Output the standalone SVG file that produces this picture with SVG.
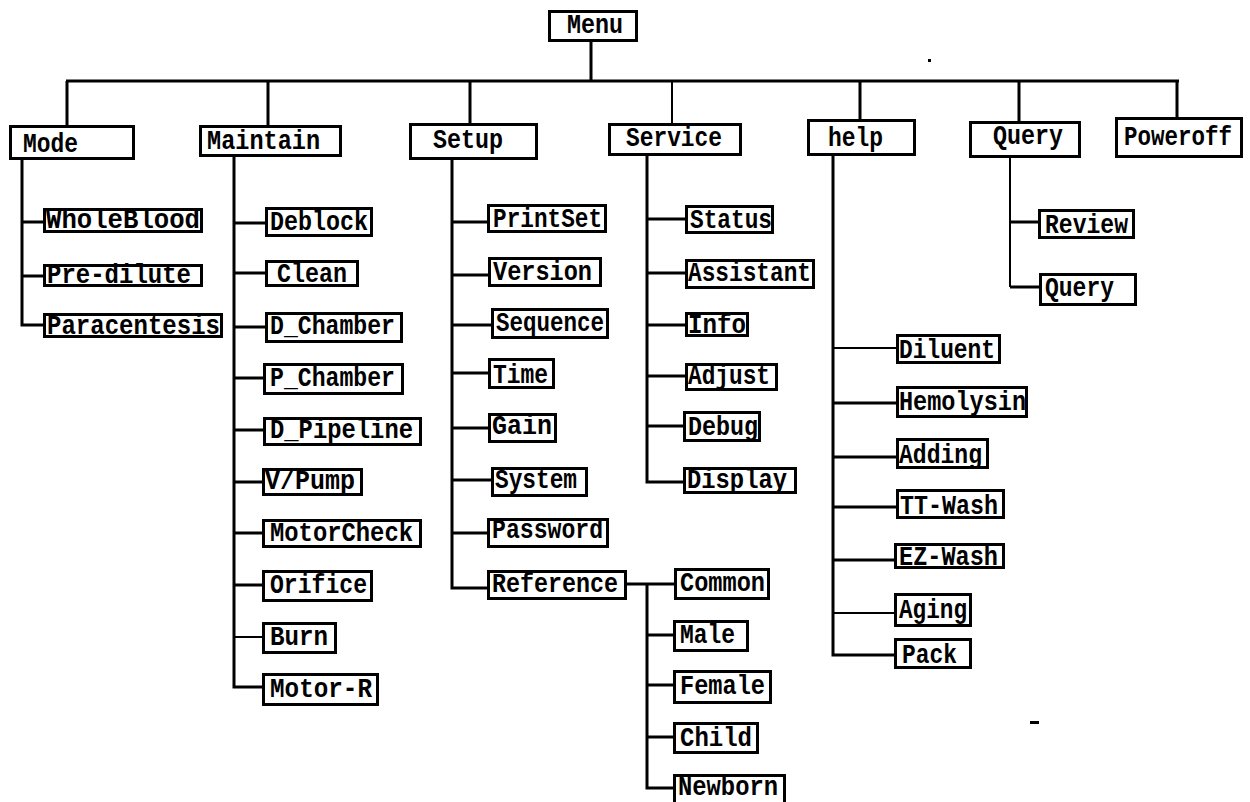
<svg xmlns="http://www.w3.org/2000/svg" width="1250" height="802" viewBox="0 0 1250 802">
<style>
.b{fill:#fff;stroke:#000;stroke-width:3}
.t{font-family:"Liberation Mono","DejaVu Sans Mono",monospace;font-weight:bold;font-size:28px;fill:#000}
.c{fill:none;stroke:#000;stroke-width:3}
.n{fill:none;stroke:#000;stroke-width:2}
</style>
<rect width="1250" height="802" fill="#fff"/>
<g id="connectors">
<path class="c" d="M591 42V81M66 81H1179M67 81V125M268 81V125M470 81V123M860 81V119M1019 81V121M1177 81V117"/>
<path class="n" d="M672 81V123"/>
<path class="c" d="M22 160V325H43M22 222H43M22 276H43"/>
<path class="c" d="M234 157V687H262M234 223H265M234 273H265M234 327H265M234 378H263M234 430H263M234 482H262M234 533H262M234 585H262"/>
<path class="n" d="M234 637H262"/>
<path class="c" d="M452 160V588H487M452 222H487M452 275H488M452 325H491M452 373H488M452 428H488M452 480H491M452 533H487"/>
<path class="c" d="M627 584H674M647 584V788H673M647 635H673M647 685H673M647 737H673"/>
<path class="c" d="M647 156V482H683M647 219H685M647 273H685M647 325H685M647 376H685M647 426H683"/>
<path class="c" d="M833 156V655H894M833 403H896M833 457H896M833 507H896M833 560H894"/>
<path class="n" d="M833 348H896M833 613H894"/>
<path class="n" d="M1010 158V287"/>
<path class="c" d="M1010 287H1039M1010 222H1038"/>
</g>
<g id="menu"><rect class="b" x="549.5" y="11.5" width="87" height="29"/><text class="t" x="567" y="33" textLength="56" lengthAdjust="spacingAndGlyphs">Menu</text></g>
<g id="mode"><rect class="b" x="10.5" y="126.5" width="123" height="32"/><text class="t" x="23" y="152" textLength="55" lengthAdjust="spacingAndGlyphs">Mode</text></g>
<g id="maintain"><rect class="b" x="200.5" y="126.5" width="140" height="29"/><text class="t" x="207" y="149" textLength="113" lengthAdjust="spacingAndGlyphs">Maintain</text></g>
<g id="setup"><rect class="b" x="410.5" y="124.5" width="126" height="34"/><text class="t" x="433" y="148" textLength="70" lengthAdjust="spacingAndGlyphs">Setup</text></g>
<g id="service"><rect class="b" x="609.5" y="124.5" width="131" height="30"/><text class="t" x="626" y="146" textLength="96" lengthAdjust="spacingAndGlyphs">Service</text></g>
<g id="help"><rect class="b" x="808.5" y="120.5" width="106" height="34"/><text class="t" x="828" y="146" textLength="55" lengthAdjust="spacingAndGlyphs">help</text></g>
<g id="query"><rect class="b" x="970.5" y="122.5" width="109" height="34"/><text class="t" x="993" y="144" textLength="70" lengthAdjust="spacingAndGlyphs">Query</text></g>
<g id="poweroff"><rect class="b" x="1116.5" y="118.5" width="125" height="38"/><text class="t" x="1232" y="145" font-size="25" text-anchor="end" textLength="108" lengthAdjust="spacingAndGlyphs">Poweroff</text></g>
<g id="wholeblood"><rect class="b" x="44.5" y="209.5" width="157" height="22"/><text class="t" x="46" y="228" textLength="154" lengthAdjust="spacingAndGlyphs">WholeBlood</text></g>
<g id="predilute"><rect class="b" x="44.5" y="265.5" width="157" height="20"/><text class="t" x="47" y="283" textLength="144" lengthAdjust="spacingAndGlyphs">Pre-dilute</text></g>
<g id="paracentesis"><rect class="b" x="44.5" y="314.5" width="177" height="22"/><text class="t" x="47" y="334" textLength="173" lengthAdjust="spacingAndGlyphs">Paracentesis</text></g>
<g id="deblock"><rect class="b" x="266.5" y="208.5" width="105" height="27"/><text class="t" x="270" y="230" textLength="98" lengthAdjust="spacingAndGlyphs">Deblock</text></g>
<g id="clean"><rect class="b" x="266.5" y="261.5" width="91" height="24"/><text class="t" x="277" y="282" textLength="70" lengthAdjust="spacingAndGlyphs">Clean</text></g>
<g id="dchamber"><rect class="b" x="266.5" y="313.5" width="135" height="28"/><text class="t" x="270" y="334" textLength="125" lengthAdjust="spacingAndGlyphs">D_Chamber</text></g>
<g id="pchamber"><rect class="b" x="264.5" y="364.5" width="138" height="29"/><text class="t" x="270" y="386" textLength="125" lengthAdjust="spacingAndGlyphs">P_Chamber</text></g>
<g id="dpipeline"><rect class="b" x="264.5" y="418.5" width="156" height="26"/><text class="t" x="270" y="438" textLength="143" lengthAdjust="spacingAndGlyphs">D_Pipeline</text></g>
<g id="vpump"><rect class="b" x="263.5" y="469.5" width="98" height="25"/><text class="t" x="265" y="489" textLength="90" lengthAdjust="spacingAndGlyphs">V/Pump</text></g>
<g id="motorcheck"><rect class="b" x="263.5" y="520.5" width="157" height="26"/><text class="t" x="270" y="541" textLength="143" lengthAdjust="spacingAndGlyphs">MotorCheck</text></g>
<g id="orifice"><rect class="b" x="263.5" y="571.5" width="108" height="29"/><text class="t" x="270" y="593" textLength="97" lengthAdjust="spacingAndGlyphs">Orifice</text></g>
<g id="burn"><rect class="b" x="263.5" y="623.5" width="72" height="29"/><text class="t" x="270" y="645" textLength="58" lengthAdjust="spacingAndGlyphs">Burn</text></g>
<g id="motorr"><rect class="b" x="263.5" y="674.5" width="114" height="30"/><text class="t" x="270" y="697" textLength="102" lengthAdjust="spacingAndGlyphs">Motor-R</text></g>
<g id="printset"><rect class="b" x="488.5" y="205.5" width="117" height="26"/><text class="t" x="493" y="227" textLength="109" lengthAdjust="spacingAndGlyphs">PrintSet</text></g>
<g id="version"><rect class="b" x="489.5" y="258.5" width="111" height="27"/><text class="t" x="493" y="280" textLength="99" lengthAdjust="spacingAndGlyphs">Version</text></g>
<g id="sequence"><rect class="b" x="492.5" y="309.5" width="115" height="28"/><text class="t" x="496" y="331" textLength="108" lengthAdjust="spacingAndGlyphs">Sequence</text></g>
<g id="time"><rect class="b" x="489.5" y="359.5" width="64" height="28"/><text class="t" x="493" y="383" textLength="55" lengthAdjust="spacingAndGlyphs">Time</text></g>
<g id="gain"><rect class="b" x="489.5" y="414.5" width="66" height="27"/><text class="t" x="492" y="434" textLength="60" lengthAdjust="spacingAndGlyphs">Gain</text></g>
<g id="system"><rect class="b" x="492.5" y="468.5" width="94" height="27"/><text class="t" x="495" y="488" textLength="82" lengthAdjust="spacingAndGlyphs">System</text></g>
<g id="password"><rect class="b" x="488.5" y="519.5" width="119" height="27"/><text class="t" x="492" y="538" textLength="111" lengthAdjust="spacingAndGlyphs">Password</text></g>
<g id="reference"><rect class="b" x="488.5" y="571.5" width="137" height="27"/><text class="t" x="492" y="592" textLength="126" lengthAdjust="spacingAndGlyphs">Reference</text></g>
<g id="common"><rect class="b" x="675.5" y="569.5" width="93" height="29"/><text class="t" x="680" y="591" textLength="85" lengthAdjust="spacingAndGlyphs">Common</text></g>
<g id="male"><rect class="b" x="674.5" y="621.5" width="73" height="29"/><text class="t" x="680" y="643" textLength="55" lengthAdjust="spacingAndGlyphs">Male</text></g>
<g id="female"><rect class="b" x="674.5" y="671.5" width="96" height="31"/><text class="t" x="680" y="694" textLength="85" lengthAdjust="spacingAndGlyphs">Female</text></g>
<g id="child"><rect class="b" x="674.5" y="723.5" width="83" height="29"/><text class="t" x="680" y="746" textLength="72" lengthAdjust="spacingAndGlyphs">Child</text></g>
<g id="newborn"><rect class="b" x="674.5" y="775.5" width="110" height="30"/><text class="t" x="678" y="795" font-size="24" textLength="100" lengthAdjust="spacingAndGlyphs">Newborn</text></g>
<g id="status"><rect class="b" x="686.5" y="206.5" width="86" height="26"/><text class="t" x="690" y="228" textLength="82" lengthAdjust="spacingAndGlyphs">Status</text></g>
<g id="assistant"><rect class="b" x="686.5" y="260.5" width="127" height="27"/><text class="t" x="688" y="281" textLength="123" lengthAdjust="spacingAndGlyphs">Assistant</text></g>
<g id="info"><rect class="b" x="686.5" y="313.5" width="61" height="22"/><text class="t" x="688" y="333" textLength="58" lengthAdjust="spacingAndGlyphs">Info</text></g>
<g id="adjust"><rect class="b" x="686.5" y="364.5" width="90" height="25"/><text class="t" x="688" y="384" textLength="82" lengthAdjust="spacingAndGlyphs">Adjust</text></g>
<g id="debug"><rect class="b" x="684.5" y="412.5" width="75" height="28"/><text class="t" x="688" y="435" textLength="70" lengthAdjust="spacingAndGlyphs">Debug</text></g>
<g id="display"><rect class="b" x="684.5" y="468.5" width="111" height="24"/><text class="t" x="687" y="488" textLength="100" lengthAdjust="spacingAndGlyphs">Display</text></g>
<g id="diluent"><rect class="b" x="897.5" y="335.5" width="102" height="27"/><text class="t" x="899" y="358" textLength="96" lengthAdjust="spacingAndGlyphs">Diluent</text></g>
<g id="hemolysin"><rect class="b" x="897.5" y="387.5" width="129" height="29"/><text class="t" x="899" y="410" textLength="127" lengthAdjust="spacingAndGlyphs">Hemolysin</text></g>
<g id="adding"><rect class="b" x="897.5" y="439.5" width="90" height="28"/><text class="t" x="899" y="463" textLength="83" lengthAdjust="spacingAndGlyphs">Adding</text></g>
<g id="ttwash"><rect class="b" x="897.5" y="490.5" width="106" height="27"/><text class="t" x="900" y="514" textLength="98" lengthAdjust="spacingAndGlyphs">TT-Wash</text></g>
<g id="ezwash"><rect class="b" x="895.5" y="544.5" width="108" height="23"/><text class="t" x="899" y="565" textLength="99" lengthAdjust="spacingAndGlyphs">EZ-Wash</text></g>
<g id="aging"><rect class="b" x="895.5" y="594.5" width="75" height="31"/><text class="t" x="899" y="618" textLength="68" lengthAdjust="spacingAndGlyphs">Aging</text></g>
<g id="pack"><rect class="b" x="895.5" y="639.5" width="75" height="28"/><text class="t" x="902" y="663" textLength="55" lengthAdjust="spacingAndGlyphs">Pack</text></g>
<g id="review"><rect class="b" x="1039.5" y="210.5" width="94" height="27"/><text class="t" x="1045" y="233" textLength="83" lengthAdjust="spacingAndGlyphs">Review</text></g>
<g id="query2"><rect class="b" x="1040.5" y="274.5" width="95" height="30"/><text class="t" x="1045" y="296" textLength="69" lengthAdjust="spacingAndGlyphs">Query</text></g>
<rect x="928" y="59" width="3" height="3" fill="#000"/>
<rect x="1030" y="721" width="9" height="3" fill="#000"/>
</svg>
